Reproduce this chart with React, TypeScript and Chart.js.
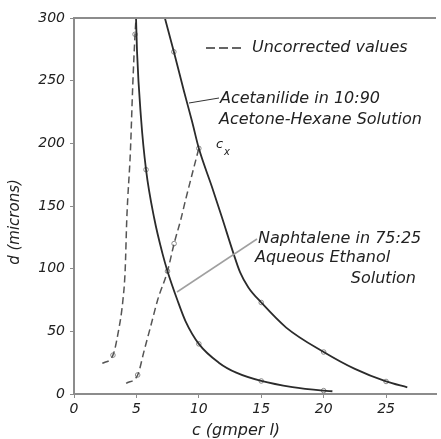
import React, { useEffect, useRef } from "react";
import { Chart, registerables } from "chart.js";
Chart.register(...registerables);

// Acetanilide in 10:90 Acetone-Hexane (corrected, solid)
const acetC = [7.28, 8.0, 8.8, 9.47, 10.0, 11.06, 11.85, 12.78, 13.31, 13.97, 15.0, 17.0, 20.0, 22.5, 25.0, 26.7];
const acetD = [300, 273, 242, 217, 196, 165, 141, 112, 97, 85, 73, 53, 33.5, 20, 10, 5.3];
const acetMarkC = [8.0, 10.0, 15.0, 20.0, 25.0];
const acetMarkD = [273, 196, 73, 33.5, 10];

// Naphtalene in 75:25 Aqueous Ethanol (corrected, solid)
const naphC = [4.97, 5.05, 5.37, 5.77, 6.43, 7.09, 7.49, 8.28, 8.94, 10, 11.6, 13, 15, 17.5, 20, 20.7];
const naphD = [300, 273, 220, 179, 140, 112, 98, 75, 58, 40, 25, 17, 10.4, 5.5, 2.7, 2.2];
const naphMarkC = [5.77, 7.49, 10, 15, 20];
const naphMarkD = [179, 98, 40, 10.4, 2.7];

// Uncorrected values (dashed)
const uncLeftC = [2.27, 3.12, 3.52, 3.92, 4.1, 4.23, 4.52, 4.71, 4.89, 4.97];
const uncLeftD = [24.4, 31, 48, 75, 99, 140, 194, 247, 287, 300];
const uncLeftMarkC = [3.12, 4.89];
const uncLeftMarkD = [31, 287];

const uncRightC = [4.18, 5.1, 5.63, 6.17, 6.7, 7.49, 8.02, 8.55, 8.94, 10.0];
const uncRightD = [8.5, 15.2, 35, 55, 75, 98, 120, 139, 155, 196];
const uncRightMarkC = [5.1, 8.02];
const uncRightMarkD = [15.2, 120];

const xTickValues = [0, 5, 10, 15, 20, 25];
const yTickValues = [0, 50, 100, 150, 200, 250, 300];

const FONT = "'DejaVu Sans', 'Liberation Sans', sans-serif";
const SOLID = "#2b2b2b";
const DASH = "#555555";
const AXIS = "#8c8c8c";

const pts = (xs: number[], ys: number[]) => xs.map((x, i) => ({ x, y: ys[i] }));

const lineDs = (label: string, xs: number[], ys: number[], dashed: boolean) => ({
  label,
  data: pts(xs, ys),
  showLine: true,
  borderColor: dashed ? DASH : SOLID,
  borderWidth: dashed ? 1.5 : 1.8,
  borderDash: dashed ? [7, 4] : [],
  cubicInterpolationMode: "monotone",
  pointRadius: 0,
  fill: false,
});

const markDs = (label: string, xs: number[], ys: number[]) => ({
  label,
  data: pts(xs, ys),
  showLine: false,
  pointRadius: 2.3,
  pointBackgroundColor: "#ffffff",
  pointBorderColor: "#8a8a8a",
  pointBorderWidth: 1,
});

const annotations = {
  id: "annotations",
  afterDraw(chart: any) {
    const ctx = chart.ctx as CanvasRenderingContext2D;
    const a = chart.chartArea;
    ctx.save();
    // top frame line
    ctx.strokeStyle = AXIS;
    ctx.lineWidth = 2;
    ctx.beginPath();
    ctx.moveTo(a.left, a.top);
    ctx.lineTo(a.right, a.top);
    ctx.stroke();

    ctx.fillStyle = "#222";
    ctx.textBaseline = "middle";
    ctx.font = `italic 16px ${FONT}`;

    // legend for uncorrected values
    ctx.strokeStyle = "#333";
    ctx.lineWidth = 1.5;
    ctx.setLineDash([9, 4]);
    ctx.beginPath();
    ctx.moveTo(206, 48);
    ctx.lineTo(243, 48);
    ctx.stroke();
    ctx.setLineDash([]);
    ctx.textAlign = "left";
    ctx.fillText("Uncorrected values", 252, 48);

    // acetanilide label & leader
    ctx.strokeStyle = "#333";
    ctx.lineWidth = 1;
    ctx.beginPath();
    ctx.moveTo(189, 103);
    ctx.lineTo(219, 98);
    ctx.stroke();
    ctx.fillText("Acetanilide in 10:90", 220, 99);
    ctx.fillText("Acetone-Hexane Solution", 219, 120);

    // c_x
    ctx.font = `italic 13px ${FONT}`;
    ctx.fillText("c", 216, 145);
    ctx.font = `italic 10px ${FONT}`;
    ctx.fillText("x", 224, 152);

    // naphtalene label & leader
    ctx.strokeStyle = "#a0a0a0";
    ctx.lineWidth = 1.5;
    ctx.beginPath();
    ctx.moveTo(177, 292);
    ctx.lineTo(257, 239);
    ctx.stroke();
    ctx.font = `italic 16px ${FONT}`;
    ctx.fillText("Naphtalene in 75:25", 258, 239);
    ctx.fillText("Aqueous Ethanol", 255, 258);
    ctx.textAlign = "right";
    ctx.fillText("Solution", 416, 279);

    // axis titles
    ctx.textAlign = "center";
    ctx.font = `italic 16px ${FONT}`;
    ctx.fillText("c (gmper l)", 236, 431);
    ctx.translate(15, 222);
    ctx.rotate(-Math.PI / 2);
    ctx.font = `italic 15px ${FONT}`;
    ctx.fillText("d (microns)", 0, 0);
    ctx.restore();
  },
};

export default function App() {
  const ref = useRef<HTMLCanvasElement | null>(null);
  useEffect(() => {
    if (!ref.current) return;
    const tickFont = { family: FONT, style: "italic" as const, size: 14 };
    const chart = new Chart(ref.current, {
      type: "scatter",
      data: {
        datasets: [
          lineDs("Acetanilide", acetC, acetD, false),
          lineDs("Naphtalene", naphC, naphD, false),
          lineDs("Uncorrected A", uncLeftC, uncLeftD, true),
          lineDs("Uncorrected B", uncRightC, uncRightD, true),
          markDs("m1", acetMarkC, acetMarkD),
          markDs("m2", naphMarkC, naphMarkD),
          markDs("m3", uncLeftMarkC, uncLeftMarkD),
          markDs("m4", uncRightMarkC, uncRightMarkD),
        ] as any,
      },
      options: {
        animation: false,
        responsive: false,
        layout: { padding: { top: 18, right: 0, left: 0, bottom: 0 } },
        plugins: { legend: { display: false }, tooltip: { enabled: false } },
        scales: {
          x: {
            type: "linear",
            min: 0,
            max: 29,
            afterFit: (s: any) => { s.height = 45; },
            afterBuildTicks: (s: any) => { s.ticks = xTickValues.map((v) => ({ value: v })); },
            ticks: { font: tickFont, color: "#222", padding: 3, includeBounds: false },
            grid: { display: true, drawOnChartArea: false, drawTicks: true, tickLength: 4, color: AXIS },
            border: { display: true, color: AXIS, width: 2 },
          },
          y: {
            type: "linear",
            min: 0,
            max: 300,
            afterFit: (s: any) => { s.width = 74; },
            afterBuildTicks: (s: any) => { s.ticks = yTickValues.map((v) => ({ value: v })); },
            ticks: { font: tickFont, color: "#222", padding: 5 },
            grid: { display: true, drawOnChartArea: false, drawTicks: true, tickLength: 4, color: AXIS },
            border: { display: true, color: AXIS, width: 2 },
          },
        },
      },
      plugins: [annotations],
    });
    return () => chart.destroy();
  }, []);
  return (
    <div style={{ position: "fixed", left: 0, top: 0, width: 441, height: 439, background: "#fff" }}>
      <canvas ref={ref} width={441} height={439} style={{ width: 441, height: 439, display: "block" }} />
    </div>
  );
}
